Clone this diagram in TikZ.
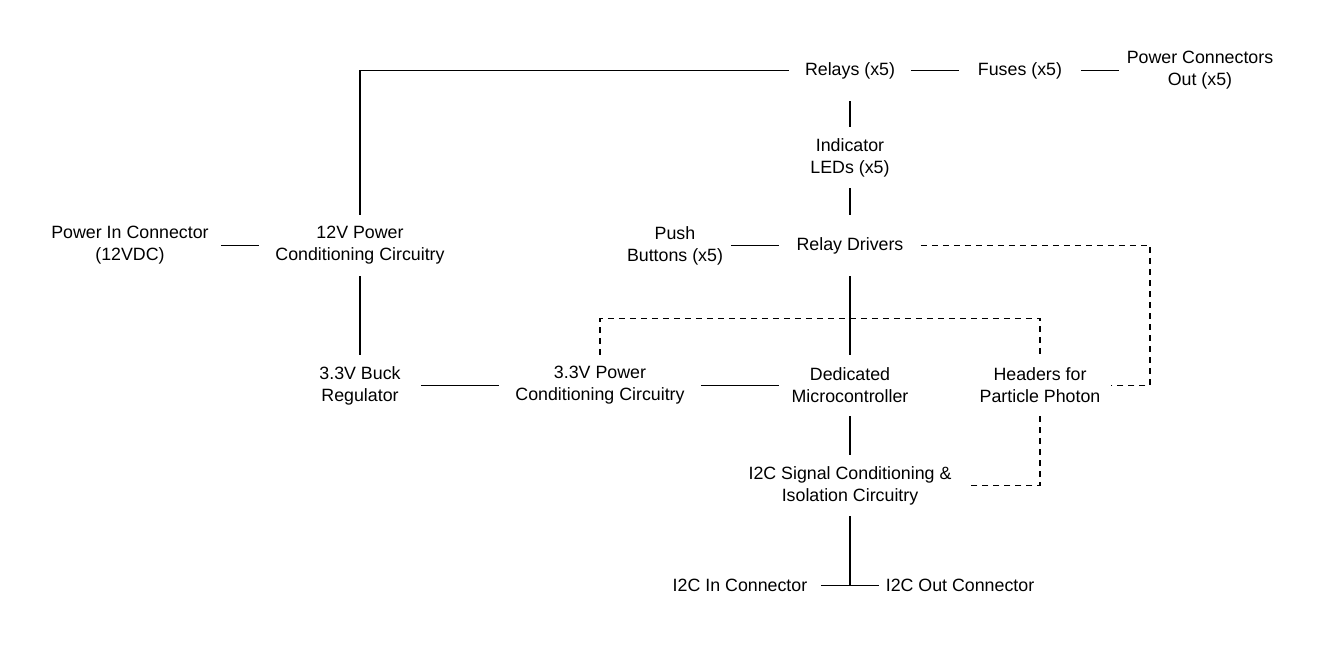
\documentclass[tikz,border=0pt]{standalone}
\usepackage{fontspec}
\setmainfont{Liberation Sans}
\usetikzlibrary{positioning}

\begin{document}
\begin{tikzpicture}
[x=1pt,y=-1pt,-,line width=1.5pt,%
  every node/.style={shape=rectangle,inner sep=0pt,minimum height=60pt,align=center,font=\fontsize{17.8}{22}\selectfont},%
  wd/.style={minimum width=#1pt},%
  link/.style={dash pattern=on 6pt off 5pt}]
\useasboundingbox (0,-1.5) rectangle (1320,654.5);
%%
\node[wd=120] (relay) at (850,69) {Relays (x5)};
\node[wd=120] (fuse) at (1020,69) {Fuses (x5)};
\node[wd=160] (pout) at (1200,69) {Power Connectors\\Out (x5)};
\node[wd=120] (led) at (850,156) {Indicator\\LEDs (x5)};
%%
\node[wd=180] (pin) at (130,244) {Power In Connector\\(12VDC)};
\node[wd=200] (pc12) at (360,244) {12V Power\\Conditioning Circuitry};
\node[wd=110] (btn) at (675,244) {Push\\Buttons (x5)};
\node[wd=140] (drv) at (850,244) {Relay Drivers};
%%
\node[wd=120] (buck) at (360,384) {3.3V Buck\\Regulator};
\node[wd=200] (pc33) at (600,384) {3.3V Power\\Conditioning Circuitry};
\node[wd=140] (mcu) at (850,384) {Dedicated\\Microcontroller};
\node[wd=140] (hdr) at (1040,384) {Headers for\\Particle Photon};
%%
\node[wd=240] (i2c) at (850,484) {I2C Signal Conditioning \&\\Isolation Circuitry};
\node[wd=160] (i2cin) at (740,584) {I2C In Connector};
\node[wd=160] (i2cout) at (960,584) {I2C Out Connector};
%%
\coordinate (drvturn) at (1150,244);
\coordinate (hdrturn) at (600,317);
%%
\path
\foreach \startNode/\endNode in {pin.east/pc12.west, pc12.south/buck.north,
  buck.east/pc33.west, pc33.east/mcu.west, mcu.south/i2c.north,
  relay.east/fuse.west, fuse.east/pout.west, relay.south/led.north,
  led.south/drv.north, btn.east/drv.west, drv.south/mcu.north,
  i2cin.east/i2cout.west}
{
  (\startNode) edge (\endNode)
};
\draw (pc12.north) |- (relay.west);
\draw (i2c.south) -- (i2c.south |- i2cin);
%%
\draw[link] (drv.east) -- (drvturn) |- (hdr.east);
\draw[link] (pc33.north) -- (hdrturn) -| (hdr.north);
\draw[link] (hdr.south) |- (i2c.east);
\end{tikzpicture}
\end{document}
